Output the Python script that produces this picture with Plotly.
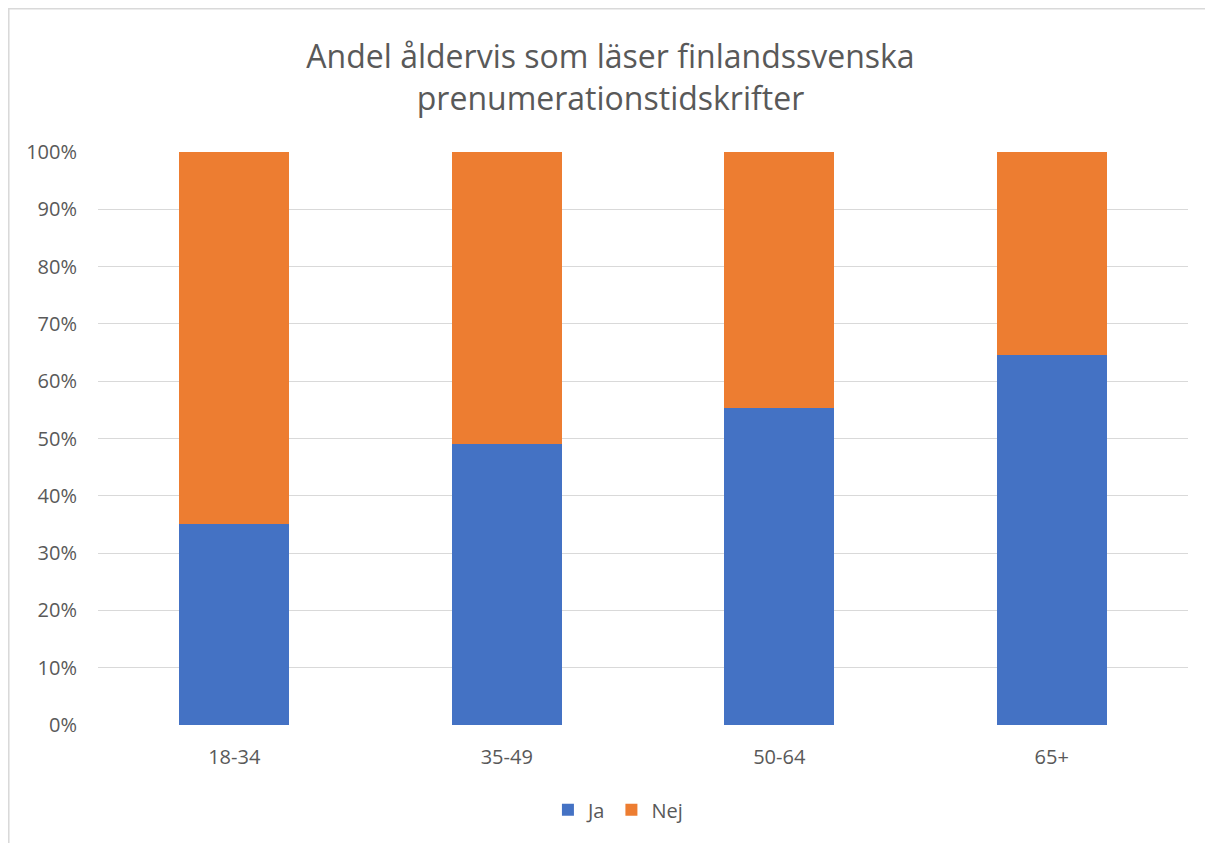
import plotly.graph_objects as go

categories = ["18-34", "35-49", "50-64", "65+"]
ja = [0.35, 0.49, 0.553, 0.645]
nej = [0.65, 0.51, 0.447, 0.355]
tick_vals = [0, 0.1, 0.2, 0.3, 0.4, 0.5, 0.6, 0.7, 0.8, 0.9, 1.0]
tick_text = ["0%", "10%", "20%", "30%", "40%", "50%", "60%", "70%", "80%", "90%", "100%"]

font_family = "Open Sans, Liberation Sans, sans-serif"
grey = "#595959"

W, H = 1205, 835
L, T, PW, PH = 90, 144, 1090, 573

fig = go.Figure()
fig.add_trace(go.Bar(name="Ja", x=categories, y=ja, marker=dict(color="#4472C4", line=dict(width=0))))
fig.add_trace(go.Bar(name="Nej", x=categories, y=nej, marker=dict(color="#ED7D31", line=dict(width=0))))

fig.update_layout(
    barmode="stack",
    bargap=0.596,
    width=W, height=H,
    paper_bgcolor="white", plot_bgcolor="white",
    margin=dict(l=L, r=W - L - PW, t=T, b=H - T - PH, autoexpand=False),
    font=dict(family=font_family, color=grey, size=20),
    title=dict(
        text="Andel åldervis som läser finlandssvenska<br>prenumerationstidskrifter",
        x=0.5, xanchor="center", xref="container",
        y=1 - 60 / H, yanchor="middle",
        font=dict(size=32, color=grey, family=font_family),
    ),
    xaxis=dict(showgrid=False, showline=False, ticks="", ticklabelstandoff=18,
               tickfont=dict(size=20, color=grey)),
    yaxis=dict(range=[0, 1], tickvals=tick_vals, ticktext=tick_text, showgrid=True,
               gridcolor="#D9D9D9", gridwidth=1.3, zeroline=False, showline=False,
               ticks="", ticklabelstandoff=20, tickfont=dict(size=20, color=grey)),
    legend=dict(orientation="h", x=0.477, xanchor="center", y=-0.148, yanchor="middle",
                font=dict(size=20, color=grey), traceorder="normal", itemwidth=30),
    shapes=[dict(type="rect", xref="paper", yref="paper",
                 x0=-L / PW + 0.0005, x1=(W - L + 20) / PW,
                 y0=-(H - T - PH + 20) / PH, y1=(PH + T - 0.5) / PH,
                 line=dict(color="#D9D9D9", width=2), fillcolor="rgba(0,0,0,0)", layer="below")],
)

fig.write_html("out.html")
